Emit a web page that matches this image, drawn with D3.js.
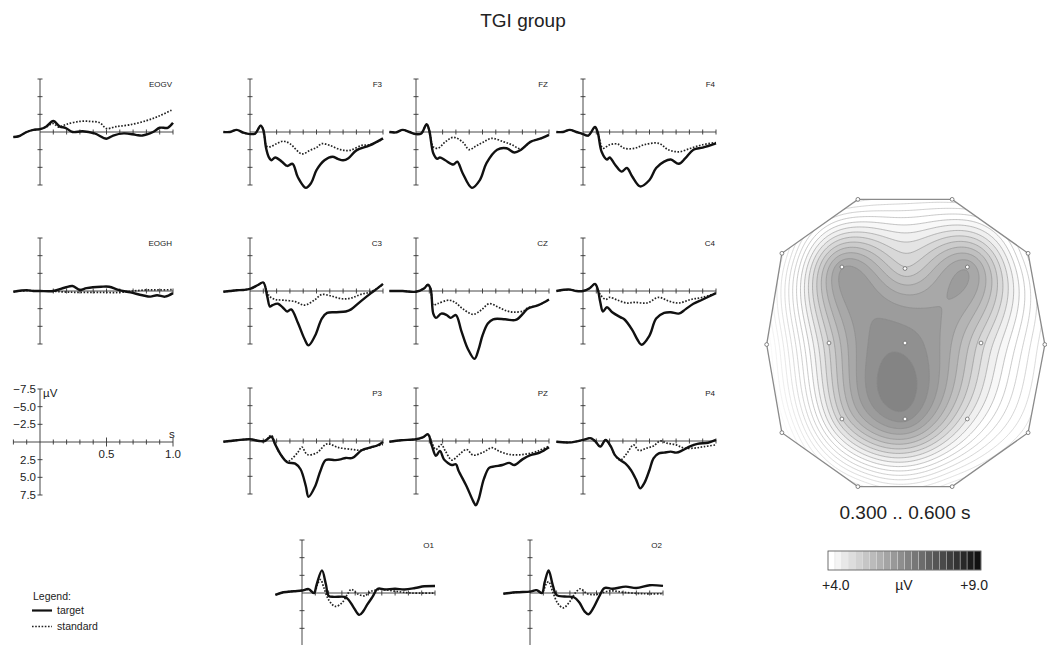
<!DOCTYPE html>
<html>
<head>
<meta charset="utf-8">
<script src="https://cdn.jsdelivr.net/npm/d3@7"></script>
<style>
  body { margin: 0; background: #fff; }
  text { font-family: "Liberation Sans", Arial, sans-serif; fill: #222; }
</style>
</head>
<body>
<div id="chart"></div>
<script>
// ---- ERP-Daten (µV, negativ nach oben), [Zeit s, Wert µV] ----
const EOGV_target = [[-0.2,0.7],[-0.16,0.6],[-0.1,0],[-0.05,-0.3],[0,-0.4],[0.045,-0.75],[0.1,-1.55],[0.15,-0.75],[0.19,-0.6],[0.245,0],[0.32,-0.1],[0.41,0.2],[0.5,0.95],[0.55,0.5],[0.63,0.2],[0.72,0.4],[0.77,0.5],[0.85,0],[0.9,-0.6],[0.96,-0.6],[1.0,-1.3]];
const EOGV_standard = [[-0.2,0.7],[-0.16,0.6],[-0.1,0],[-0.05,-0.3],[0,-0.4],[0.045,-0.7],[0.1,-1.2],[0.14,-0.7],[0.2,-1.1],[0.3,-1.5],[0.38,-1.5],[0.45,-1.3],[0.5,-0.5],[0.57,-0.75],[0.67,-1.0],[0.8,-1.6],[0.9,-2.3],[1.0,-3.2]];
const EOGH_target = [[-0.2,0.1],[-0.1,-0.1],[-0.05,0],[0,0],[0.1,0],[0.19,-0.5],[0.245,-0.7],[0.3,-0.15],[0.35,-0.4],[0.46,-0.6],[0.52,-0.6],[0.59,-0.15],[0.68,0.2],[0.77,0.6],[0.83,0.8],[0.88,0.6],[0.94,0.8],[1.0,0.3]];
const EOGH_standard = [[-0.2,0.1],[-0.1,-0.05],[0,0],[0.1,0.05],[0.2,0.15],[0.3,0.2],[0.45,0.2],[0.6,0.2],[0.7,0],[0.8,-0.15],[0.9,-0.15],[1.0,-0.2]];

const F3_target = [[-0.2,0],[-0.15,0],[-0.1,-0.3],[-0.05,0.1],[0,0.3],[0.04,0.2],[0.08,-0.9],[0.1,-0.3],[0.12,2.2],[0.14,3.5],[0.16,4.0],[0.19,3.6],[0.24,4.2],[0.28,4.8],[0.32,4.5],[0.36,6.4],[0.42,7.9],[0.46,7.2],[0.5,5.4],[0.56,4.0],[0.62,3.5],[0.66,3.8],[0.7,4.0],[0.74,3.7],[0.8,2.6],[0.9,1.9],[1.0,0.9]];
const F3_standard = [[-0.2,0],[-0.15,0],[-0.1,-0.3],[-0.05,0.1],[0,0.3],[0.04,0.2],[0.08,-0.9],[0.1,-0.3],[0.125,2.0],[0.15,2.1],[0.2,1.65],[0.25,1.3],[0.3,1.65],[0.39,3.1],[0.45,2.6],[0.5,2.2],[0.54,1.65],[0.6,1.9],[0.68,2.5],[0.75,2.6],[0.84,1.9],[0.9,1.8],[1.0,1.0]];
const FZ_target = [[-0.2,0],[-0.15,0.05],[-0.1,-0.3],[-0.05,0],[0,0.3],[0.04,0.2],[0.08,-1.1],[0.1,-0.2],[0.13,3.0],[0.16,3.8],[0.18,3.6],[0.22,4.0],[0.28,4.6],[0.31,4.2],[0.35,5.8],[0.42,7.9],[0.48,6.8],[0.53,4.4],[0.61,2.5],[0.68,2.3],[0.74,2.9],[0.79,2.5],[0.86,1.4],[0.94,0.9],[1.0,0.4]];
const FZ_standard = [[-0.2,0],[-0.15,0.05],[-0.1,-0.3],[-0.05,0],[0,0.3],[0.04,0.2],[0.08,-1.1],[0.1,-0.2],[0.13,2.1],[0.165,2.3],[0.22,1.4],[0.28,0.75],[0.35,1.4],[0.4,2.5],[0.45,2.0],[0.5,1.5],[0.57,0.9],[0.66,1.4],[0.72,1.8],[0.79,2.4],[0.86,1.4],[0.94,0.9],[1.0,0.4]];
const F4_target = [[-0.2,0],[-0.15,0],[-0.1,-0.3],[-0.05,0],[0,0.3],[0.04,0.5],[0.09,-0.7],[0.11,0],[0.14,2.8],[0.18,3.9],[0.2,3.6],[0.24,4.6],[0.29,5.6],[0.33,5.1],[0.37,6.3],[0.43,7.7],[0.5,6.8],[0.55,5.1],[0.61,4.2],[0.66,3.9],[0.72,4.5],[0.77,3.7],[0.83,2.5],[0.9,2.2],[1.0,1.6]];
const F4_standard = [[-0.2,0],[-0.15,0],[-0.1,-0.3],[-0.05,0],[0,0.3],[0.04,0.5],[0.09,-0.7],[0.11,0],[0.15,2.3],[0.2,1.8],[0.26,1.7],[0.31,2.3],[0.39,2.3],[0.46,1.8],[0.57,1.6],[0.64,2.5],[0.72,2.8],[0.81,2.3],[0.9,1.8],[1.0,1.5]];

const C3_target = [[-0.2,0.1],[-0.15,0],[-0.1,-0.1],[-0.05,-0.15],[0,-0.3],[0.06,-0.85],[0.1,-1.2],[0.13,0.8],[0.15,2.2],[0.17,2.0],[0.21,1.8],[0.25,2.4],[0.28,2.9],[0.31,2.6],[0.36,4.5],[0.41,6.8],[0.44,7.7],[0.49,6.3],[0.54,3.9],[0.58,3.1],[0.65,3.0],[0.72,2.9],[0.76,2.6],[0.83,1.5],[0.91,0.3],[0.96,-0.4],[1.0,-1.0]];
const C3_standard = [[-0.2,0.1],[-0.15,0],[-0.1,-0.1],[-0.05,-0.15],[0,-0.3],[0.06,-0.85],[0.1,-1.2],[0.13,0.2],[0.15,0.8],[0.19,1.2],[0.25,1.3],[0.34,1.5],[0.41,2.0],[0.49,1.2],[0.54,0.5],[0.61,0.7],[0.69,1.1],[0.76,1.0],[0.83,0.5],[0.91,0.1],[1.0,-0.9]];
const CZ_target = [[-0.2,0],[-0.1,0],[0,0.1],[0.06,-0.35],[0.09,-0.9],[0.11,-0.3],[0.13,3.2],[0.15,3.8],[0.19,3.2],[0.23,3.4],[0.26,3.8],[0.3,3.4],[0.34,5.6],[0.39,8.2],[0.44,9.6],[0.47,8.3],[0.5,6.3],[0.54,4.6],[0.58,4.0],[0.67,4.0],[0.75,4.1],[0.81,3.1],[0.84,2.5],[0.92,2.0],[1.0,1.2]];
const CZ_standard = [[-0.2,0],[-0.1,0],[0,0.1],[0.06,-0.35],[0.09,-0.9],[0.11,-0.3],[0.13,2.0],[0.16,1.8],[0.25,1.3],[0.3,1.7],[0.35,2.5],[0.43,3.3],[0.49,2.7],[0.55,1.8],[0.62,2.3],[0.68,2.8],[0.74,3.0],[0.81,2.8],[0.84,2.4],[0.92,2.0],[1.0,1.2]];
const C4_target = [[-0.2,0],[-0.1,-0.2],[-0.05,0],[0,0],[0.05,-0.4],[0.09,-1.0],[0.11,-0.3],[0.13,1.6],[0.15,2.9],[0.18,2.3],[0.22,3.0],[0.28,3.7],[0.31,4.0],[0.37,5.5],[0.41,6.9],[0.44,7.6],[0.5,6.3],[0.55,3.9],[0.61,3.1],[0.66,3.0],[0.72,3.2],[0.77,2.6],[0.83,1.8],[0.9,1.2],[1.0,0.3]];
const C4_standard = [[-0.2,0],[-0.1,-0.2],[-0.05,0],[0,0],[0.05,-0.4],[0.09,-1.0],[0.11,-0.3],[0.13,0.5],[0.17,1.2],[0.2,0.9],[0.26,1.3],[0.33,1.7],[0.39,1.6],[0.48,1.7],[0.57,0.9],[0.64,1.4],[0.72,1.7],[0.81,1.2],[0.9,0.9],[1.0,0.3]];

const P3_target = [[-0.2,0.1],[-0.15,0],[-0.1,-0.1],[0,-0.25],[0.07,0],[0.11,0],[0.16,-0.6],[0.19,0.5],[0.23,1.9],[0.28,3.0],[0.34,3.2],[0.38,4.0],[0.42,6.4],[0.44,7.9],[0.49,6.4],[0.53,4.2],[0.57,2.7],[0.64,2.7],[0.68,2.6],[0.72,2.4],[0.77,2.4],[0.84,1.3],[0.91,0.9],[0.96,0.6],[1.0,0.15]];
const P3_standard = [[-0.2,0.1],[-0.15,0],[-0.1,-0.1],[0,-0.25],[0.07,0],[0.11,0],[0.16,-0.8],[0.19,0.5],[0.23,1.9],[0.28,2.9],[0.31,2.6],[0.36,1.6],[0.39,0.85],[0.43,1.9],[0.5,1.7],[0.58,0.4],[0.66,0.9],[0.77,1.2],[0.84,1.3],[0.91,0.9],[1.0,0.5]];
const PZ_target = [[-0.2,0.1],[-0.11,-0.1],[0,-0.25],[0.05,-0.5],[0.09,-0.95],[0.12,0.7],[0.15,2.1],[0.18,1.4],[0.21,2.6],[0.24,3.1],[0.27,3.4],[0.3,3.3],[0.32,4.2],[0.38,6.4],[0.43,8.5],[0.45,9.1],[0.47,8.3],[0.51,5.4],[0.55,3.8],[0.59,3.6],[0.65,3.4],[0.7,3.1],[0.74,3.4],[0.8,2.6],[0.86,2.0],[0.93,1.65],[1.0,0.9]];
const PZ_standard = [[-0.2,0.1],[-0.11,-0.1],[0,-0.25],[0.05,-0.5],[0.09,-0.95],[0.12,0.3],[0.15,1.2],[0.19,0.5],[0.22,1.4],[0.27,2.7],[0.32,2.0],[0.38,1.2],[0.43,2.0],[0.51,1.55],[0.57,0.95],[0.62,1.4],[0.7,1.9],[0.81,1.9],[0.92,1.4],[1.0,0.7]];
const P4_target = [[-0.2,0.1],[-0.1,0.2],[0,-0.15],[0.055,-0.4],[0.09,0],[0.13,0.8],[0.17,-0.15],[0.21,0.8],[0.24,2.0],[0.28,2.7],[0.32,3.2],[0.36,4.1],[0.4,5.5],[0.43,6.7],[0.46,6.0],[0.5,4.1],[0.53,2.45],[0.57,1.75],[0.61,1.65],[0.66,1.5],[0.7,1.65],[0.75,1.3],[0.8,0.8],[0.86,0.4],[0.94,0.25],[1.0,-0.15]];
const P4_standard = [[-0.2,0.1],[-0.1,0.2],[0,-0.15],[0.055,-0.4],[0.09,0],[0.13,0.8],[0.17,-0.15],[0.21,0.8],[0.24,2.0],[0.28,2.7],[0.33,1.75],[0.38,0.55],[0.42,1.35],[0.48,1.0],[0.53,0.7],[0.58,0],[0.63,0.3],[0.7,0.55],[0.76,1.0],[0.84,1.0],[0.91,0.8],[1.0,0.55]];

const O1_target = [[-0.2,0.25],[-0.14,-0.1],[-0.06,-0.25],[0,-0.35],[0.05,-0.55],[0.09,0],[0.11,-1.2],[0.15,-3.2],[0.18,-1.2],[0.2,0.4],[0.24,0.55],[0.32,0.55],[0.35,0.95],[0.39,2.1],[0.43,3.1],[0.46,2.6],[0.49,1.65],[0.53,0.55],[0.57,-0.6],[0.62,-0.5],[0.7,-0.6],[0.77,-0.5],[0.85,-0.7],[0.92,-0.95],[1.0,-1.0]];
const O1_standard = [[-0.2,0.25],[-0.14,-0.1],[-0.06,-0.25],[0,-0.35],[0.05,-0.5],[0.09,0],[0.12,-1.4],[0.14,-1.9],[0.165,-0.7],[0.2,0.95],[0.25,1.9],[0.3,1.4],[0.34,0.25],[0.37,-0.5],[0.42,0.15],[0.47,0.4],[0.52,-0.25],[0.6,-0.5],[0.7,-0.25],[0.82,0],[1.0,0]];
const O2_target = [[-0.2,0.1],[-0.1,-0.1],[0,-0.2],[0.05,-0.4],[0.09,0],[0.11,-1.5],[0.14,-3.2],[0.17,-1.2],[0.2,0.3],[0.26,0.5],[0.33,0.6],[0.37,1.3],[0.41,2.6],[0.44,3.0],[0.48,2.0],[0.52,0.5],[0.56,-0.7],[0.62,-0.6],[0.72,-0.9],[0.8,-0.7],[0.9,-1.1],[1.0,-1.0]];
const O2_standard = [[-0.2,0.1],[-0.1,-0.1],[0,-0.2],[0.05,-0.4],[0.09,0],[0.12,-1.2],[0.14,-1.6],[0.17,-0.2],[0.21,1.5],[0.25,2.1],[0.3,1.2],[0.34,0],[0.38,-0.6],[0.43,0.1],[0.5,0.2],[0.6,-0.3],[0.7,-0.1],[0.85,0.1],[1.0,0.1]];

// Skalen-Ticks
const yTicks = [-7.5, -5.0, -2.5, 2.5, 5.0, 7.5];
const xTicks = d3.range(0, 11).map(i => i / 10);

// ---- Topographie: Elektroden + mittlere Amplitude 0.300..0.600 s ----
const mapChannels = ['Fp1','Fp2','F7','F8','T3','T4','T5','T6','O1','O2','F3','Fz','F4','C3','Cz','C4','P3','Pz','P4'];
const mapValues   = [2.7, 2.9, 2.2, 2.9, 1.3, 2.5, 1.2, 2.3, 2.1, 2.0, 5.75, 4.8, 5.7, 4.8, 6.15, 4.6, 4.75, 6.05, 4.2];
const colorbarRange = [4.0, 9.0];

// Elektrodenpositionen (Kopfkoordinaten, y nach unten)
const headPos = {
  Fp1: [-0.31, -0.945], Fp2: [0.31, -0.945], F7: [-0.81, -0.59], F8: [0.81, -0.59],
  T3: [-0.91, 0.01], T4: [0.92, 0.01], T5: [-0.81, 0.59], T6: [0.81, 0.59],
  O1: [-0.31, 0.945], O2: [0.31, 0.945],
  F3: [-0.415, -0.5], Fz: [0, -0.49], F4: [0.41, -0.5],
  C3: [-0.5, 0], Cz: [0, 0], C4: [0.5, 0],
  P3: [-0.415, 0.5], Pz: [0, 0.5], P4: [0.41, 0.5]
};
const outline = ['Fp1','Fp2','F8','T4','T6','O2','O1','T5','T3','F7'];

const W = 1047, H = 645;
const svg = d3.select('#chart').append('svg').attr('width', W).attr('height', H);
svg.append('rect').attr('width', W).attr('height', H).attr('fill', '#fff');

// Titel
svg.append('text').attr('x', 523).attr('y', 27).attr('text-anchor', 'middle')
  .style('font-size', '19px').text('TGI group');

// Panels
const panels = [
  { label: 'EOGV', ax: 40,  base: 132, t: EOGV_target, s: EOGV_standard },
  { label: 'F3',   ax: 250, base: 132, t: F3_target, s: F3_standard },
  { label: 'FZ',   ax: 416, base: 132, t: FZ_target, s: FZ_standard },
  { label: 'F4',   ax: 583, base: 132, t: F4_target, s: F4_standard },
  { label: 'EOGH', ax: 40,  base: 291, t: EOGH_target, s: EOGH_standard },
  { label: 'C3',   ax: 250, base: 291, t: C3_target, s: C3_standard },
  { label: 'CZ',   ax: 416, base: 291, t: CZ_target, s: CZ_standard },
  { label: 'C4',   ax: 583, base: 291, t: C4_target, s: C4_standard },
  { label: 'P3',   ax: 250, base: 441, t: P3_target, s: P3_standard },
  { label: 'PZ',   ax: 416, base: 441, t: PZ_target, s: PZ_standard },
  { label: 'P4',   ax: 583, base: 441, t: P4_target, s: P4_standard },
  { label: 'O1',   ax: 302, base: 593, t: O1_target, s: O1_standard },
  { label: 'O2',   ax: 530, base: 593, t: O2_target, s: O2_standard }
];

const PX_PER_S = 133, HALF_H = 53;

function scalesFor(p) {
  const x = d3.scaleLinear().domain([0, 1]).range([p.ax, p.ax + PX_PER_S]);
  const y = d3.scaleLinear().domain([-7.5, 7.5]).range([p.base - HALF_H, p.base + HALF_H]);
  return { x, y };
}

function drawAxes(g, x, y, xFrom, bigTicks) {
  const ax = g.append('g').attr('stroke', '#333').attr('stroke-width', 0.9);
  ax.append('line').attr('x1', x(0)).attr('x2', x(0)).attr('y1', y(-7.5)).attr('y2', y(7.5));
  ax.append('line').attr('x1', x(xFrom)).attr('x2', x(1)).attr('y1', y(0)).attr('y2', y(0));
  ax.selectAll('.yt').data(yTicks).enter().append('line')
    .attr('x1', x(0) - 2.5).attr('x2', x(0) + 2.5)
    .attr('y1', d => y(d)).attr('y2', d => y(d));
  const xt = xFrom < 0 ? d3.range(-2, 11).map(i => i / 10) : xTicks;
  ax.selectAll('.xt').data(xt.filter(d => d !== 0)).enter().append('line')
    .attr('x1', d => x(d)).attr('x2', d => x(d))
    .attr('y1', d => y(0) - (bigTicks && (d === 0.5 || d === 1) ? 4.5 : 2.5))
    .attr('y2', d => y(0) + (bigTicks && (d === 0.5 || d === 1) ? 4.5 : 2.5));
}

panels.forEach(p => {
  const { x, y } = scalesFor(p);
  const g = svg.append('g');
  drawAxes(g, x, y, 0, false);
  const line = d3.line().x(d => x(d[0])).y(d => y(d[1])).curve(d3.curveCatmullRom.alpha(0.5));
  g.append('path').datum(p.s).attr('d', line).attr('fill', 'none')
    .attr('stroke', '#222').attr('stroke-width', 1.7).attr('stroke-dasharray', '1.6,1.6');
  g.append('path').datum(p.t).attr('d', line).attr('fill', 'none')
    .attr('stroke', '#111').attr('stroke-width', 2.4).attr('stroke-linejoin', 'round');
  g.append('text').attr('x', p.ax + 132).attr('y', p.base - 45).attr('text-anchor', 'end')
    .style('font-size', '8px').text(p.label);
});

// Skalen-Panel
(function () {
  const p = { ax: 40, base: 442 };
  const { x, y } = scalesFor(p);
  const g = svg.append('g');
  drawAxes(g, x, y, -0.2, true);
  g.selectAll('.yl').data(yTicks).enter().append('text')
    .attr('x', x(0) - 4).attr('y', d => y(d) + 4).attr('text-anchor', 'end')
    .style('font-size', '11.5px')
    .text(d => (d < 0 ? '\u2212' : '') + Math.abs(d).toFixed(1));
  g.append('text').attr('x', x(0) + 3).attr('y', y(-7.5) + 8).style('font-size', '11.5px').text('µV');
  g.append('text').attr('x', x(1) - 4).attr('y', y(0) - 4).style('font-size', '11.5px').text('s');
  g.selectAll('.xl').data([0.5, 1.0]).enter().append('text')
    .attr('x', d => x(d)).attr('y', y(0) + 16).attr('text-anchor', 'middle')
    .style('font-size', '11.5px').text(d => d.toFixed(1));
})();

// Legende
const leg = svg.append('g');
leg.append('text').attr('x', 33).attr('y', 600).style('font-size', '10.5px').text('Legend:');
leg.append('line').attr('x1', 32).attr('x2', 52).attr('y1', 610.5).attr('y2', 610.5)
  .attr('stroke', '#111').attr('stroke-width', 2.2);
leg.append('text').attr('x', 57).attr('y', 614).style('font-size', '10.5px').text('target');
leg.append('line').attr('x1', 32).attr('x2', 52).attr('y1', 626.5).attr('y2', 626.5)
  .attr('stroke', '#222').attr('stroke-width', 1.6).attr('stroke-dasharray', '1.6,1.6');
leg.append('text').attr('x', 57).attr('y', 630).style('font-size', '10.5px').text('standard');

// ---- Topographische Karte ----
const mx = d3.scaleLinear().domain([-1, 1]).range([905 - 152, 905 + 152]);
const my = d3.scaleLinear().domain([-1, 1]).range([343 - 152, 343 + 152]);

// Thin-plate-spline-Interpolation der Elektrodenwerte
function thinPlate(pts, vals) {
  const n = pts.length, N = n + 3;
  const A = d3.range(N).map(() => new Array(N).fill(0));
  const b = new Array(N).fill(0);
  const K = r => (r > 0 ? r * r * Math.log(r) : 0);
  for (let i = 0; i < n; i++) {
    for (let j = 0; j < n; j++) {
      A[i][j] = K(Math.hypot(pts[i][0] - pts[j][0], pts[i][1] - pts[j][1]));
    }
    A[i][n] = 1; A[i][n + 1] = pts[i][0]; A[i][n + 2] = pts[i][1];
    A[n][i] = 1; A[n + 1][i] = pts[i][0]; A[n + 2][i] = pts[i][1];
    b[i] = vals[i];
  }
  // Gauss-Elimination
  for (let c = 0; c < N; c++) {
    let piv = c;
    for (let r = c + 1; r < N; r++) if (Math.abs(A[r][c]) > Math.abs(A[piv][c])) piv = r;
    [A[c], A[piv]] = [A[piv], A[c]]; [b[c], b[piv]] = [b[piv], b[c]];
    for (let r = c + 1; r < N; r++) {
      const f = A[r][c] / A[c][c];
      for (let k = c; k < N; k++) A[r][k] -= f * A[c][k];
      b[r] -= f * b[c];
    }
  }
  const w = new Array(N).fill(0);
  for (let r = N - 1; r >= 0; r--) {
    let s = b[r];
    for (let k = r + 1; k < N; k++) s -= A[r][k] * w[k];
    w[r] = s / A[r][r];
  }
  return (x, y) => {
    let v = w[n] + w[n + 1] * x + w[n + 2] * y;
    for (let i = 0; i < n; i++) v += w[i] * K(Math.hypot(x - pts[i][0], y - pts[i][1]));
    return v;
  };
}

const pts = mapChannels.map(c => headPos[c]);
const field = thinPlate(pts, mapValues);

const gx0 = 760, gy0 = 192, step = 1.5;
const nx = Math.ceil((1050 - gx0) / step) + 1, ny = Math.ceil((495 - gy0) / step) + 1;
const grid = new Array(nx * ny);
for (let j = 0; j < ny; j++) {
  for (let i = 0; i < nx; i++) {
    grid[j * nx + i] = field(mx.invert(gx0 + i * step), my.invert(gy0 + j * step));
  }
}

const thresholds = d3.range(1.0, 9.01, 0.25);
const contours = d3.contours().size([nx, ny]).thresholds(thresholds)(grid);
const proj = d3.geoTransform({
  point: function (x, y) { this.stream.point(gx0 + x * step, gy0 + y * step); }
});
const cpath = d3.geoPath(proj);

const outlinePts = outline.map(c => [mx(headPos[c][0]), my(headPos[c][1])]);
svg.append('clipPath').attr('id', 'headclip').append('polygon')
  .attr('points', outlinePts.map(p => p.join(',')).join(' '));

const grayFill = d3.scaleLinear().domain([3.5, colorbarRange[0], colorbarRange[1]])
  .range(['#ffffff', '#f0f0f0', '#000000']).clamp(true);
const lineCol = d3.scaleLinear().domain([1.5, 4.0, 9.0]).range(['#f6f6f6', '#a0a0a0', '#666']).clamp(true);

const mapG = svg.append('g').attr('clip-path', 'url(#headclip)');
mapG.selectAll('path').data(contours).enter().append('path')
  .attr('d', cpath)
  .attr('fill', d => grayFill(d.value))
  .attr('stroke', d => lineCol(d.value))
  .attr('stroke-width', 0.7);

svg.append('polygon').attr('points', outlinePts.map(p => p.join(',')).join(' '))
  .attr('fill', 'none').attr('stroke', '#8a8a8a').attr('stroke-width', 1.3);

svg.append('g').selectAll('circle').data(mapChannels).enter().append('circle')
  .attr('cx', c => mx(headPos[c][0])).attr('cy', c => my(headPos[c][1])).attr('r', 1.9)
  .attr('fill', '#fff').attr('stroke', '#666').attr('stroke-width', 0.8);

svg.append('text').attr('x', 905).attr('y', 519).attr('text-anchor', 'middle')
  .style('font-size', '19px').text('0.300 .. 0.600 s');

// Farbskala
const nCells = 22;
const cb = d3.scaleLinear().domain([0, nCells]).range([828, 981]);
const cbG = svg.append('g');
cbG.selectAll('rect').data(d3.range(nCells)).enter().append('rect')
  .attr('x', i => cb(i)).attr('y', 551).attr('width', cb(1) - cb(0)).attr('height', 19)
  .attr('fill', i => d3.interpolateRgb('#ffffff', '#111111')(i / (nCells - 1)))
  .attr('stroke', '#ddd').attr('stroke-width', 0.4);
cbG.append('rect').attr('x', 828).attr('y', 551).attr('width', 153).attr('height', 19)
  .attr('fill', 'none').attr('stroke', '#555').attr('stroke-width', 0.8);
cbG.append('text').attr('x', 822).attr('y', 590).style('font-size', '14px').text('+' + colorbarRange[0].toFixed(1));
cbG.append('text').attr('x', 904).attr('y', 590).attr('text-anchor', 'middle').style('font-size', '14px').text('µV');
cbG.append('text').attr('x', 988).attr('y', 590).attr('text-anchor', 'end').style('font-size', '14px').text('+' + colorbarRange[1].toFixed(1));
</script>
</body>
</html>
